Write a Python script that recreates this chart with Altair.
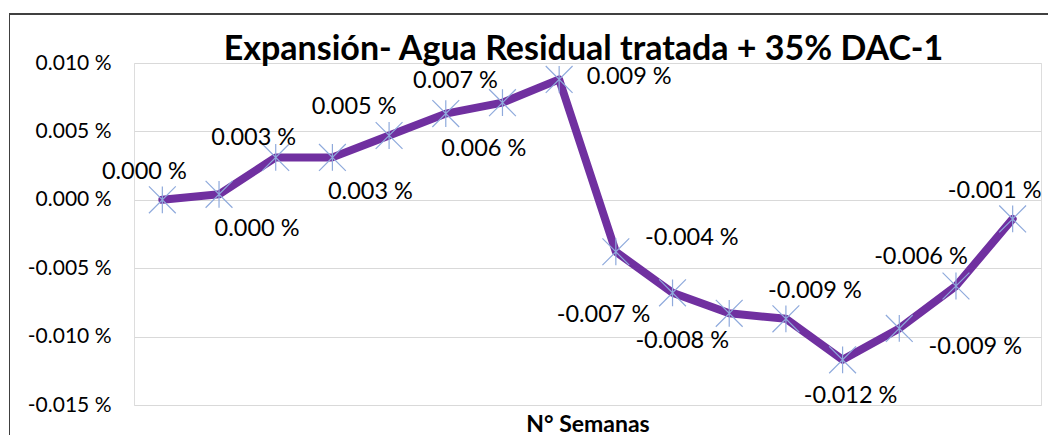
import altair as alt
import pandas as pd

# ---- data ----
weeks = list(range(1, 17))
expansion = [0.0000, 0.0004, 0.0031, 0.0031, 0.0047, 0.0063, 0.0071, 0.0088,
             -0.0038, -0.0068, -0.0083, -0.0087, -0.0117, -0.0094, -0.0063, -0.0014]
label_side = ["NW1", "SE", "NW0", "SE", "NW2", "SE", "NW3", "E1",
              "E2", "SW1", "SW2", "N", "S", "ESE", "NW2", "NW1"]
y_ticks = [-0.015, -0.010, -0.005, 0.0, 0.005, 0.010]

title_text = "Expansión- Agua Residual tratada + 35% DAC-1"
x_title = "N° Semanas"

df = pd.DataFrame({"semana": weeks, "exp": expansion, "pos": label_side})
title_df = pd.DataFrame({"t": [title_text]})

W, H = 907, 342
FONT = "Lato"
PURPLE = "#7030A0"
STAR = "#8FAADC"
FRAME = "#404040"

pct_expr = "(datum.value < 0 ? '-' : '') + format(abs(datum.value), '.3f') + ' %'"

x_enc = alt.X(
    "semana:Q",
    scale=alt.Scale(domain=[0.5, 16.5], nice=False, zero=False),
    axis=alt.Axis(title=x_title, labels=False, ticks=False, domain=False, grid=False,
                  titleFont=FONT, titleFontWeight="bold", titleFontSize=23,
                  titleColor="#000000", titleBaseline="alphabetic", titlePadding=26),
)
y_enc = alt.Y(
    "exp:Q",
    scale=alt.Scale(domain=[-0.015, 0.010], nice=False, zero=False),
    axis=alt.Axis(title=None, values=y_ticks, labelExpr=pct_expr, ticks=False,
                  domain=False, grid=True, gridColor="#D9D9D9", gridWidth=1.2,
                  labelFont=FONT, labelFontSize=21, labelColor="#000000",
                  labelPadding=23),
)

base = alt.Chart(df)

frame_left = base.mark_rule(color=FRAME, strokeWidth=1).encode(
    x=alt.value(-124.5), y=alt.value(-49), y2=alt.value(H + 60)
)
frame_top = base.mark_rule(color=FRAME, strokeWidth=1).encode(
    x=alt.value(-124.5), x2=alt.value(W + 60), y=alt.value(-49)
)

title_mark = alt.Chart(title_df).mark_text(
    font=FONT, fontSize=34, fontWeight="bold", color="#000000",
    align="center", baseline="alphabetic"
).encode(text="t:N", x=alt.value(W / 2 - 4), y=alt.value(-3))

line = base.mark_line(color=PURPLE, strokeWidth=8, strokeJoin="round", strokeCap="round").encode(
    x=x_enc, y=y_enc
)

stars = base.mark_point(
    shape="M-1,-1L1,1M-1,1L1,-1M0,-1L0,1", size=720, filled=False,
    stroke=STAR, strokeWidth=1.2, opacity=1
).encode(x="semana:Q", y="exp:Q")

offsets = {
    "NW0": (-22, -19), "NW1": (-18, -28), "NW2": (-35, -29), "NW3": (-47, -22),
    "SE": (38, 35), "E1": (70, -2), "E2": (76, -14),
    "SW1": (-69, 22), "SW2": (-47, 28), "N": (29, -28), "S": (8, 36), "ESE": (76, 19),
}

label_layers = []
for key, (ddx, ddy) in offsets.items():
    label_layers.append(
        base.transform_filter(alt.datum.pos == key)
        .transform_calculate(
            lab="(datum.exp < 0 ? '-' : '') + format(abs(datum.exp), '.3f') + ' %'"
        )
        .mark_text(dx=ddx, dy=ddy, font=FONT, fontSize=23.5, color="#000000",
                   align="center", baseline="middle")
        .encode(x="semana:Q", y="exp:Q", text="lab:N")
    )

chart = alt.layer(frame_left, frame_top, line, stars, *label_layers, title_mark).properties(
    width=W, height=H,
    autosize=alt.AutoSizeParams(type="none"),
    padding={"left": 126, "top": 55, "right": 7, "bottom": 30},
).configure_view(stroke=None).configure(background="white")

chart.save("out.html", embed_options={"renderer": "svg", "actions": False})
